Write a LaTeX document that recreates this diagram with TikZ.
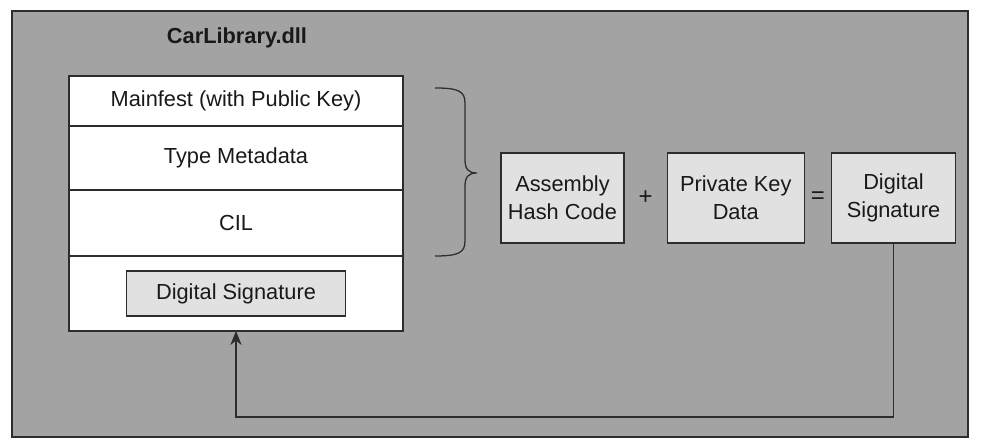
\documentclass[tikz,border=0pt]{standalone}
\usepackage{fontspec}
\setmainfont{Liberation Sans}
\usetikzlibrary{positioning,calc,arrows.meta}
\definecolor{panelgray}{RGB}{163,163,163}
\definecolor{boxgray}{RGB}{225,225,225}
\definecolor{inkgray}{RGB}{45,45,45}
\definecolor{textink}{RGB}{25,25,25}
\tikzset{
  frame/.style={draw=inkgray, line width=1.5pt, fill=panelgray},
  title/.style={font=\fontsize{15.5}{18}\selectfont\bfseries, text=textink},
  layer/.style={draw=inkgray, line width=0.9pt, fill=white, minimum width=8.35cm,
    inner sep=0pt, outer sep=0pt, font=\fontsize{15.5}{18}\selectfont, text=textink},
  sigbox/.style={draw=inkgray, line width=0.9pt, fill=boxgray, minimum width=5.475cm,
    minimum height=1.125cm, inner sep=0pt, font=\fontsize{15.5}{18}\selectfont, text=textink},
  calcbox/.style={draw=inkgray, line width=0.9pt, fill=boxgray, align=center,
    minimum height=2.25cm, inner sep=0pt, font=\fontsize{15.5}{20}\selectfont, text=textink},
  op/.style={font=\fontsize{17}{18}\selectfont, text=textink},
  curly/.style={draw=inkgray, line width=0.9pt},
  arrow/.style={-{Stealth[length=10pt, width=8pt]}, draw=inkgray, line width=0.9pt}
}
\begin{document}
\begin{tikzpicture}
  \path[fill=white, use as bounding box] (0,0) rectangle (24.525,11.175);
  % Panel
  \draw[frame] (0.3,0.25) rectangle (24.2,10.9);
  \node[title] (dllname) at (5.925,10.225) {CarLibrary.dll};

  % Assembly layers
  \node[layer, minimum height=1.25cm, anchor=north] (manifest) at (5.9,9.275) {Mainfest (with Public Key)};
  \node[layer, minimum height=1.6cm, below=0pt of manifest] (metadata) {Type Metadata};
  \node[layer, minimum height=1.65cm, below=0pt of metadata] (cil) {CIL};
  \node[layer, minimum height=1.875cm, below=0pt of cil] (sigrow) {};
  \node[sigbox] (sigslot) at (sigrow.center) {Digital Signature};

  % Brace over the hashed layers
  \draw[curly] (10.875,8.975) .. controls (11.45,8.975) and (11.625,8.9) .. (11.625,8.6)
    -- (11.625,7.2) .. controls (11.625,6.95) and (11.7,6.85) .. (11.925,6.85)
    .. controls (11.7,6.85) and (11.625,6.75) .. (11.625,6.5)
    -- (11.625,5.15) .. controls (11.625,4.85) and (11.45,4.775) .. (10.875,4.775);

  % Signing
  \node[calcbox, minimum width=3.075cm] (hash) at (14.0625,6.225) {Assembly\\Hash Code};
  \node[calcbox, minimum width=3.425cm, right=1.05cm of hash] (privkey) {Private Key\\Data};
  \node[calcbox, minimum width=3.1cm, right=0.65cm of privkey] (dsig) {Digital\\Signature};
  \node[op] (plus) at ($(hash.east)!0.5!(privkey.west)$) {+};
  \node[op] (equals) at ($(privkey.east)!0.5!(dsig.west)$) {=};

  \coordinate (turn) at (dsig.south |- 0,0.75);
  \draw[arrow] (dsig.south) -- (turn) -| (sigrow.south);
\end{tikzpicture}
\end{document}
